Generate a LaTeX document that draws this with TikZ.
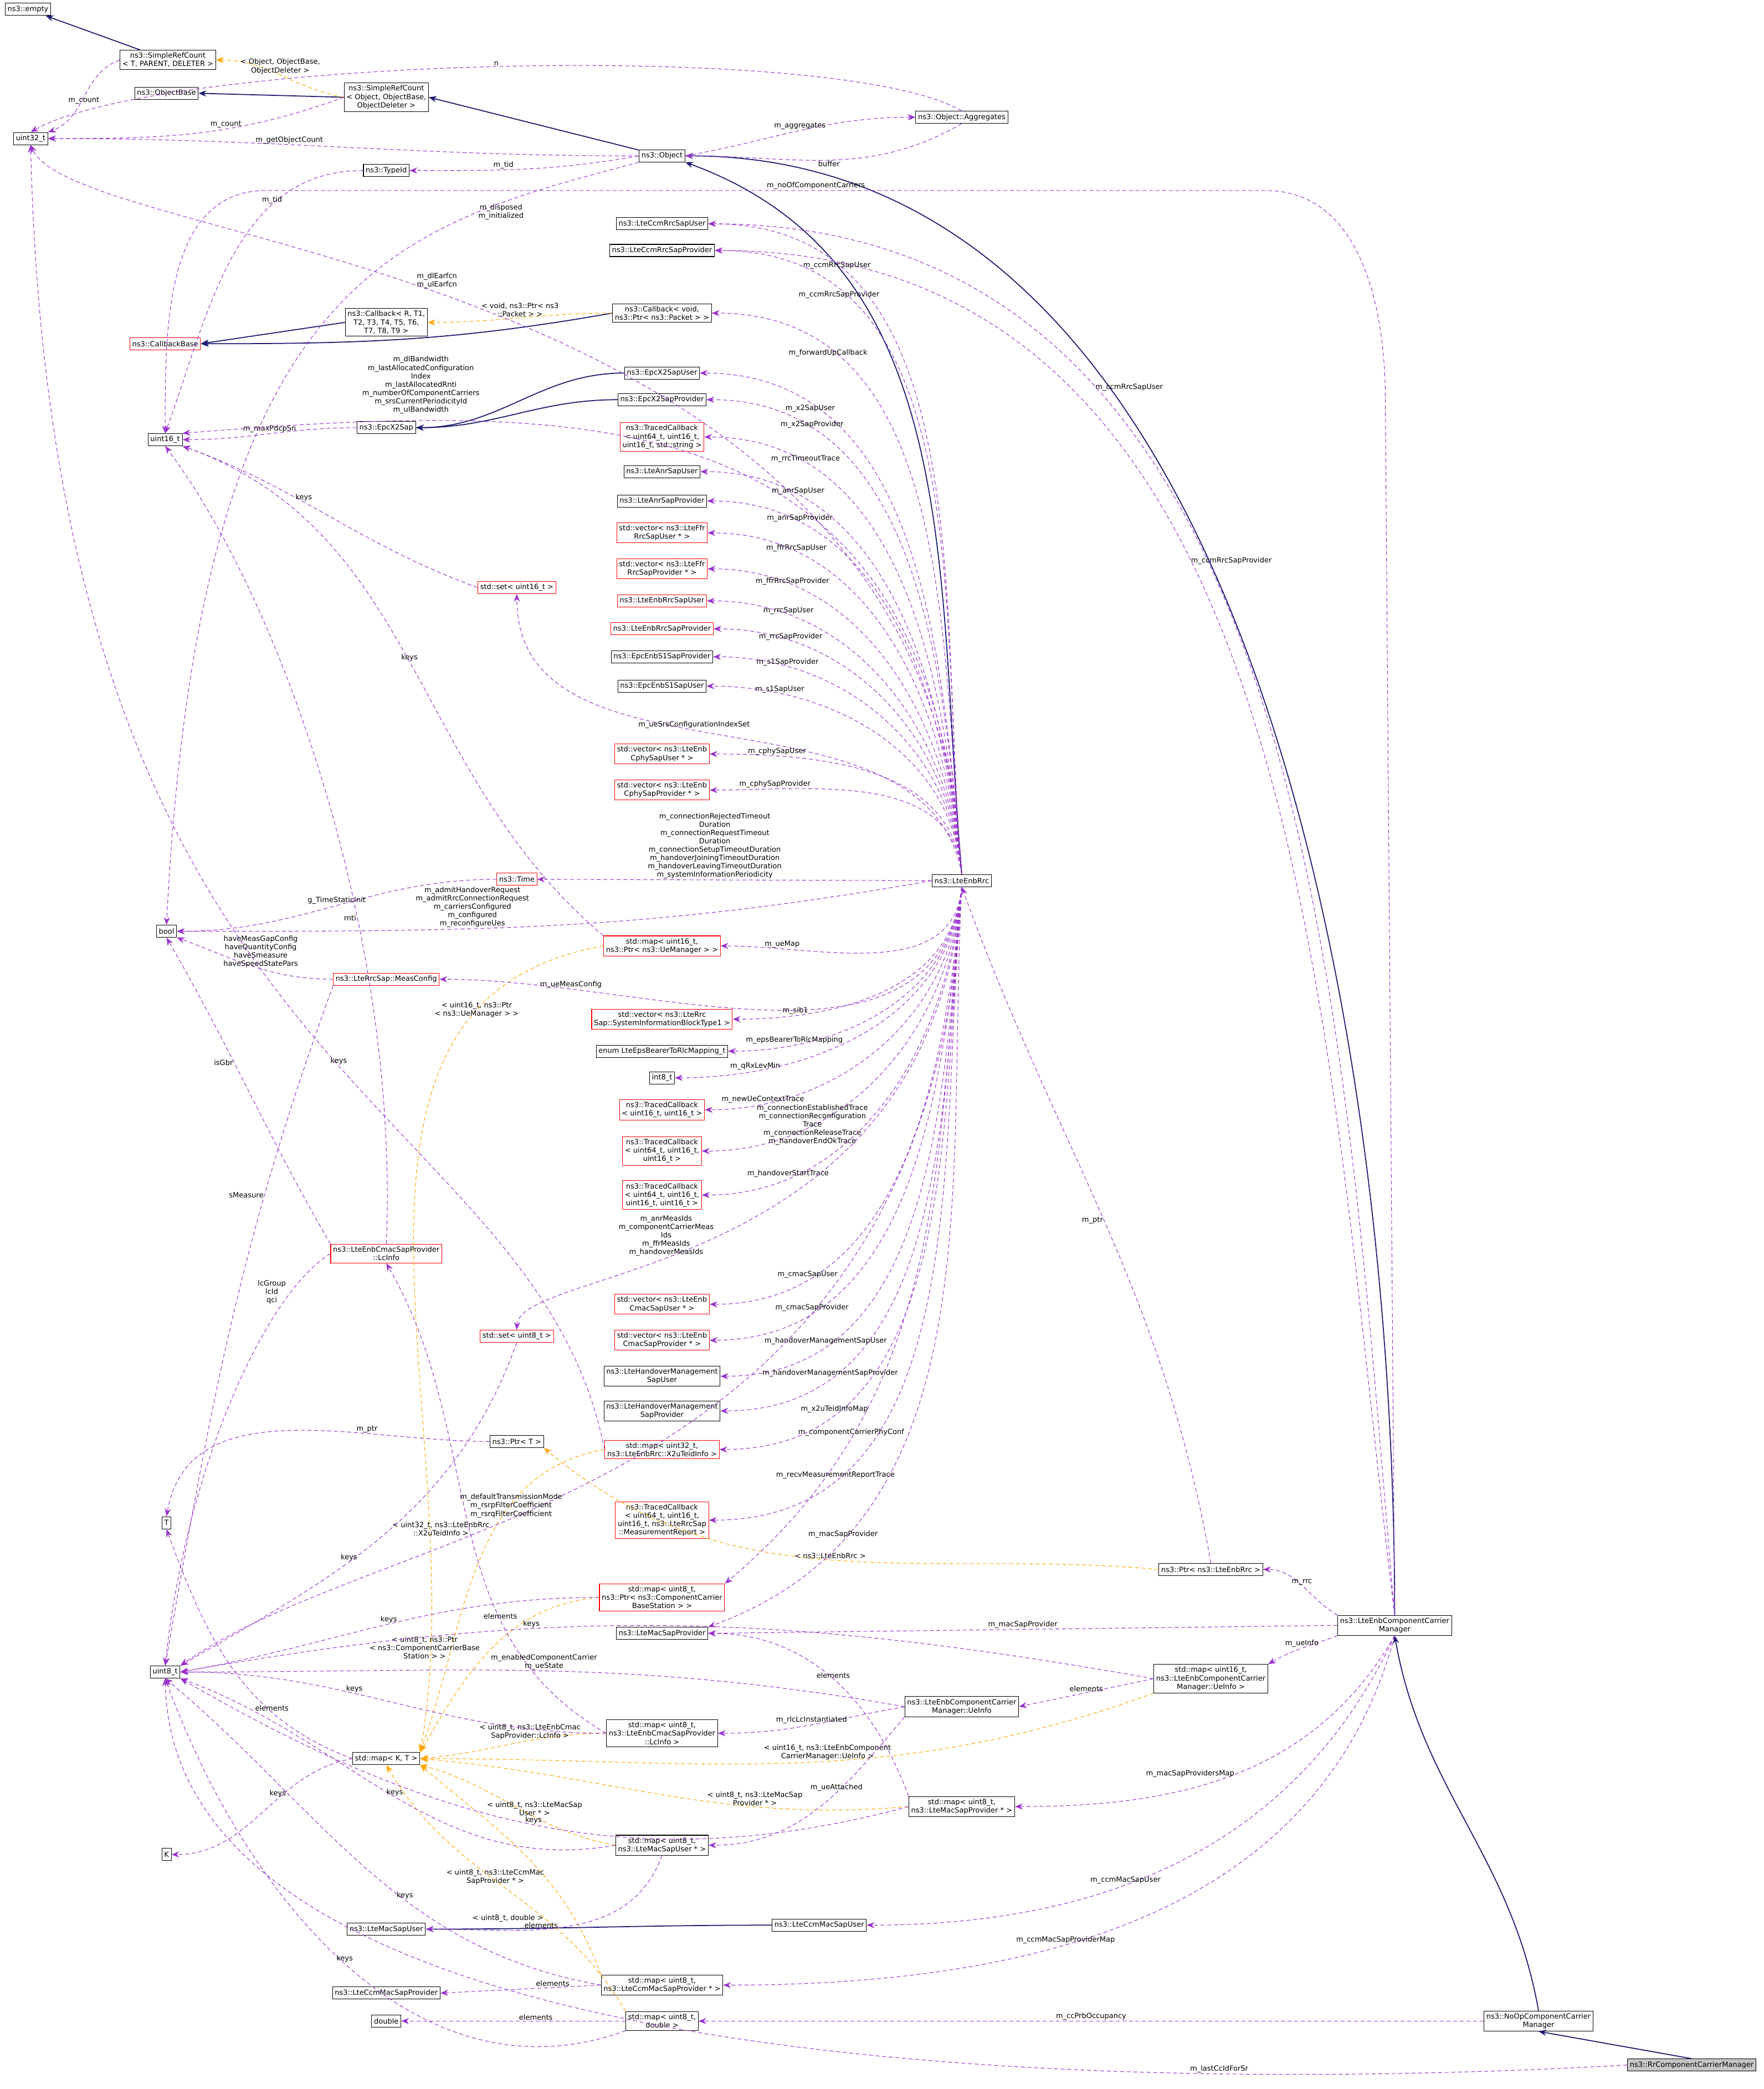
\documentclass[tikz,border=0pt]{standalone}
\usepackage{fontspec}
\setmainfont{DejaVu Sans}
\usetikzlibrary{arrows.meta,positioning}
\definecolor{navy}{HTML}{191970}
\definecolor{purp}{HTML}{9A32CD}
\definecolor{orng}{HTML}{FFA500}
\newcommand{\dxfont}{\fontsize{3.7}{4.3}\selectfont}
\tikzset{
 cls/.style={draw=black, fill=white, font=\dxfont, align=center, inner sep=1.2pt, minimum height=0.22cm, line width=0.3pt},
 cred/.style={cls, draw=red},
 cfoc/.style={cls, fill=gray!45},
 inh/.style={draw=navy, line width=0.5pt, -{Stealth[length=1.4mm,width=1.1mm]}},
 use/.style={draw=purp, line width=0.3pt, dash pattern=on 2pt off 1.4pt, -{Stealth[length=1.4mm,width=1.1mm]}},
 tpl/.style={draw=orng, line width=0.3pt, dash pattern=on 2pt off 1.4pt, -{Stealth[length=1.4mm,width=1.1mm]}},
 lbl/.style={font=\dxfont, align=center, text=black, inner sep=0.4pt},
}
\begin{document}
\begin{tikzpicture}[x=0.02404cm, y=-0.02404cm]
\useasboundingbox (0,0) rectangle (1324,1568);

% classes, left column
\node[cls] (empty) at (21,7) {ns3::empty};
\node[cls] (srcT) at (126,45) {ns3::SimpleRefCount\\< T, PARENT, DELETER >};
\node[cls] (objbase) at (125,70) {ns3::ObjectBase};
\node[cls] (u32) at (23,104) {uint32\_t};
\node[cred] (cbbase) at (124,258) {ns3::CallbackBase};
\node[cls] (u16) at (124,330) {uint16\_t};
\node[cls] (bool) at (125,699) {bool};
\node[cls] (T) at (125,1143) {T};
\node[cls] (u8) at (124,1255) {uint8\_t};
\node[cls] (K) at (125,1392) {K};

% second column
\node[cls] (srcobj) at (290,73) {ns3::SimpleRefCount\\< Object, ObjectBase,\\ObjectDeleter >};
\node[cls] (typeid) at (290,128) {ns3::TypeId};
\node[cls] (cbR) at (290,242) {ns3::Callback< R, T1,\\T2, T3, T4, T5, T6,\\T7, T8, T9 >};
\node[cls] (x2sap) at (290,321) {ns3::EpcX2Sap};
\node[cred] (time) at (388,660) {ns3::Time};
\node[cred] (set16) at (388,441) {std::set< uint16\_t >};
\node[cred] (meas) at (290,735) {ns3::LteRrcSap::MeasConfig};
\node[cred] (lcinfo) at (290,941) {ns3::LteEnbCmacSapProvider\\::LcInfo};
\node[cred] (set8) at (388,1003) {std::set< uint8\_t >};
\node[cls] (ptrT) at (388,1082) {ns3::Ptr< T >};
\node[cls] (mapKT) at (290,1320) {std::map< K, T >};
\node[cls] (macuser) at (290,1448) {ns3::LteMacSapUser};
\node[cls] (ccmmacprov) at (290,1496) {ns3::LteCcmMacSapProvider};
\node[cls] (double) at (290,1517) {double};

% third column
\node[cls] (object) at (497,117) {ns3::Object};
\node[cls] (ccmrrcuser) at (497,168) {ns3::LteCcmRrcSapUser};
\node[cls] (ccmrrcprov) at (497,188) {ns3::LteCcmRrcSapProvider};
\node[cls] (cbvoid) at (497,235) {ns3::Callback< void,\\ns3::Ptr< ns3::Packet > >};
\node[cls] (x2user) at (497,280) {ns3::EpcX2SapUser};
\node[cls] (x2prov) at (497,300) {ns3::EpcX2SapProvider};
\node[cred] (tc1) at (497,328) {ns3::TracedCallback\\< uint64\_t, uint16\_t,\\uint16\_t, std::string >};
\node[cls] (anruser) at (497,354) {ns3::LteAnrSapUser};
\node[cls] (anrprov) at (497,376) {ns3::LteAnrSapProvider};
\node[cred] (ffruser) at (497,400) {std::vector< ns3::LteFfr\\RrcSapUser * >};
\node[cred] (ffrprov) at (497,427) {std::vector< ns3::LteFfr\\RrcSapProvider * >};
\node[cred] (rrcuser) at (497,451) {ns3::LteEnbRrcSapUser};
\node[cred] (rrcprov) at (497,472) {ns3::LteEnbRrcSapProvider};
\node[cls] (s1prov) at (497,493) {ns3::EpcEnbS1SapProvider};
\node[cls] (s1user) at (497,515) {ns3::EpcEnbS1SapUser};
\node[cred] (cphyuser) at (497,566) {std::vector< ns3::LteEnb\\CphySapUser * >};
\node[cred] (cphyprov) at (497,593) {std::vector< ns3::LteEnb\\CphySapProvider * >};
\node[cred] (uemap) at (497,710) {std::map< uint16\_t,\\ns3::Ptr< ns3::UeManager > >};
\node[cred] (sib1) at (497,765) {std::vector< ns3::LteRrc\\Sap::SystemInformationBlockType1 >};
\node[cls] (enum) at (497,789) {enum LteEpsBearerToRlcMapping\_t};
\node[cls] (i8) at (497,809) {int8\_t};
\node[cred] (tc2) at (497,833) {ns3::TracedCallback\\< uint16\_t, uint16\_t >};
\node[cred] (tc3) at (497,864) {ns3::TracedCallback\\< uint64\_t, uint16\_t,\\uint16\_t >};
\node[cred] (tc4) at (497,897) {ns3::TracedCallback\\< uint64\_t, uint16\_t,\\uint16\_t, uint16\_t >};
\node[cred] (cmacuser) at (497,979) {std::vector< ns3::LteEnb\\CmacSapUser * >};
\node[cred] (cmacprov) at (497,1006) {std::vector< ns3::LteEnb\\CmacSapProvider * >};
\node[cls] (homuser) at (497,1033) {ns3::LteHandoverManagement\\SapUser};
\node[cls] (homprov) at (497,1059) {ns3::LteHandoverManagement\\SapProvider};
\node[cred] (x2umap) at (497,1088) {std::map< uint32\_t,\\ns3::LteEnbRrc::X2uTeidInfo >};
\node[cred] (tc5) at (497,1141) {ns3::TracedCallback\\< uint64\_t, uint16\_t,\\uint16\_t, ns3::LteRrcSap\\::MeasurementReport >};
\node[cred] (ccmap) at (497,1199) {std::map< uint8\_t,\\ns3::Ptr< ns3::ComponentCarrier\\BaseStation > >};
\node[cls] (macprov) at (497,1226) {ns3::LteMacSapProvider};
\node[cls] (lcmap) at (497,1301) {std::map< uint8\_t,\\ns3::LteEnbCmacSapProvider\\::LcInfo >};
\node[cls] (macusermap) at (497,1385) {std::map< uint8\_t,\\ns3::LteMacSapUser * >};
\node[cls] (ccmprovmap) at (497,1490) {std::map< uint8\_t,\\ns3::LteCcmMacSapProvider * >};
\node[cls] (dblmap) at (497,1517) {std::map< uint8\_t,\\double >};

% right part
\node[cls] (aggr) at (722,88) {ns3::Object::Aggregates};
\node[cls] (rrc) at (722,661) {ns3::LteEnbRrc};
\node[cls] (ueinfo) at (722,1281) {ns3::LteEnbComponentCarrier\\Manager::UeInfo};
\node[cls] (macprovmap) at (722,1356) {std::map< uint8\_t,\\ns3::LteMacSapProvider * >};
\node[cls] (ccmmacuser) at (615,1445) {ns3::LteCcmMacSapUser};
\node[cls] (ptrrrc) at (909,1178) {ns3::Ptr< ns3::LteEnbRrc >};
\node[cls] (ueinfomap) at (909,1260) {std::map< uint16\_t,\\ns3::LteEnbComponentCarrier\\Manager::UeInfo >};
\node[cls] (ccm) at (1047,1220) {ns3::LteEnbComponentCarrier\\Manager};
\node[cls] (noop) at (1155,1517) {ns3::NoOpComponentCarrier\\Manager};
\node[cfoc] (rr) at (1270,1550) {ns3::RrComponentCarrierManager};

% inheritance
\draw[inh] (srcT) -- (empty);
\draw[inh] (srcobj.west) -- (objbase.east);
\draw[inh] (object) -- (srcobj.east);
\draw[inh] (rrc.north) to[out=95,in=-20] (object.south east);
\draw[inh] (ccm.north) to[out=90,in=0,looseness=0.9] (object.east);
\draw[inh] (cbR.west) -- (cbbase.east);
\draw[inh] (cbvoid.west) to[out=190,in=0] (cbbase.east);
\draw[inh] (x2user.west) to[out=180,in=0] (x2sap.east);
\draw[inh] (x2prov.west) to[out=180,in=0] (x2sap.east);
\draw[inh] (ccmmacuser.west) to[out=180,in=0] (macuser.east);
\draw[inh] (noop.north) to[out=100,in=-80] (ccm.south);
\draw[inh] (rr.north) -- (noop.south);

% template instances
\draw[tpl] (srcobj.west) to[out=170,in=0] node[lbl,pos=0.5,above]{< Object, ObjectBase,\\ObjectDeleter >} (srcT.east);
\draw[tpl] (cbvoid.west) to[out=180,in=0] node[lbl,pos=0.5,above]{< void, ns3::Ptr< ns3\\::Packet > >} (cbR.east);
\draw[tpl] (uemap.west) to[out=190,in=80] node[lbl,pos=0.18]{< uint16\_t, ns3::Ptr\\< ns3::UeManager > >} (mapKT.north east);
\draw[tpl] (x2umap.west) to[out=190,in=70] node[lbl,pos=0.4,left=2pt]{< uint32\_t, ns3::LteEnbRrc\\::X2uTeidInfo >} (mapKT.north east);
\draw[tpl] (ptrrrc.west) to[out=175,in=-40] node[lbl,pos=0.5,above]{< ns3::LteEnbRrc >} (ptrT.south east);
\draw[tpl] (ccmap.west) to[out=185,in=60] node[lbl,pos=0.5,left=6pt]{< uint8\_t, ns3::Ptr\\< ns3::ComponentCarrierBase\\Station > >} (mapKT.north east);
\draw[tpl] (lcmap.west) to[out=180,in=5] node[lbl,pos=0.4,above]{< uint8\_t, ns3::LteEnbCmac\\SapProvider::LcInfo >} (mapKT.east);
\draw[tpl] (ueinfomap.south west) to[out=200,in=0] node[lbl,pos=0.45,above]{< uint16\_t, ns3::LteEnbComponent\\CarrierManager::UeInfo >} (mapKT.east);
\draw[tpl] (macprovmap.west) to[out=185,in=-5] node[lbl,pos=0.3,above]{< uint8\_t, ns3::LteMacSap\\Provider * >} (mapKT.east);
\draw[tpl] (macusermap.west) to[out=170,in=-15] node[lbl,pos=0.4,above]{< uint8\_t, ns3::LteMacSap\\User * >} (mapKT.south east);
\draw[tpl] (ccmprovmap.north west) to[out=110,in=-40] node[lbl,pos=0.4,left]{< uint8\_t, ns3::LteCcmMac\\SapProvider * >} (mapKT.south east);
\draw[tpl] (dblmap.north west) to[out=120,in=-60] node[lbl,pos=0.35,left]{< uint8\_t, double >} (mapKT.south);

% members, top
\draw[use] (srcT.west) to[out=200,in=20] node[lbl,pos=0.5,below]{m\_count} (u32.north east);
\draw[use] (srcobj.west) to[out=200,in=0] node[lbl,pos=0.4,above]{m\_count} (u32.east);
\draw[use] (aggr.north) to[out=150,in=30,looseness=0.4] node[lbl,pos=0.5,above]{n} (u32.north);
\draw[use] (object.west) to[out=180,in=0] node[lbl,pos=0.6,above]{m\_getObjectCount} (u32.east);
\draw[use] (object.east) to[out=10,in=180] node[lbl,pos=0.5,above]{m\_aggregates} (aggr.west);
\draw[use] (aggr.south) to[out=-150,in=0] node[lbl,pos=0.5,below]{buffer} (object.east);
\draw[use] (object.west) to[out=190,in=0] node[lbl,pos=0.6,above]{m\_tid} (typeid.east);
\draw[use] (typeid.west) to[out=180,in=70] node[lbl,pos=0.3,above]{m\_tid} (u16.north);
\draw[use] (object.south west) .. controls (300,170) and (150,200) .. node[lbl,pos=0.2,below]{m\_disposed\\m\_initialized} (bool.north);
\draw[use] (x2sap.west) to[out=180,in=0] node[lbl,pos=0.5,above]{m\_maxPdcpSn} (u16.east);

% members of the rrc, above it
\draw[use] (rrc.north) .. controls (700,190) and (60,190) .. node[lbl,pos=0.55,above=1pt]{m\_dlEarfcn\\m\_ulEarfcn} (u32.south);
\draw[use] (rrc.north) to[out=95,in=0] node[lbl,pos=0.8]{m\_ccmRrcSapUser} (ccmrrcuser.east);
\draw[use] (rrc.north) to[out=95,in=0] node[lbl,pos=0.8,below]{m\_ccmRrcSapProvider} (ccmrrcprov.east);
\draw[use] (rrc.north) to[out=95,in=0] node[lbl,pos=0.8,below]{m\_forwardUpCallback} (cbvoid.east);
\draw[use] (rrc.north) .. controls (700,300) and (450,300) .. node[lbl,pos=0.8,above=3pt]{m\_dlBandwidth\\m\_lastAllocatedConfiguration\\Index\\m\_lastAllocatedRnti\\m\_numberOfComponentCarriers\\m\_srsCurrentPeriodicityId\\m\_ulBandwidth} (u16.north east);
\draw[use] (rrc.north) to[out=95,in=0] node[lbl,pos=0.8,below]{m\_x2SapUser} (x2user.east);
\draw[use] (rrc.north) to[out=95,in=0] node[lbl,pos=0.8,above]{m\_x2SapProvider} (x2prov.east);
\draw[use] (rrc.north) to[out=95,in=0] node[lbl,pos=0.8,above]{m\_rrcTimeoutTrace} (tc1.east);
\draw[use] (rrc.north) to[out=95,in=0] node[lbl,pos=0.8,above]{m\_anrSapUser} (anruser.east);
\draw[use] (rrc.north) to[out=95,in=0] node[lbl,pos=0.8,above]{m\_anrSapProvider} (anrprov.east);
\draw[use] (rrc.north) to[out=95,in=0] node[lbl,pos=0.8,above]{m\_ffrRrcSapUser} (ffruser.east);
\draw[use] (rrc.north) to[out=95,in=0] node[lbl,pos=0.8,above]{m\_ffrRrcSapProvider} (ffrprov.east);
\draw[use] (rrc.north) to[out=95,in=0] node[lbl,pos=0.8,above]{m\_rrcSapUser} (rrcuser.east);
\draw[use] (rrc.north) to[out=95,in=0] node[lbl,pos=0.8,above]{m\_rrcSapProvider} (rrcprov.east);
\draw[use] (rrc.north) to[out=95,in=0] node[lbl,pos=0.8,above]{m\_s1SapProvider} (s1prov.east);
\draw[use] (rrc.north) to[out=95,in=0] node[lbl,pos=0.8,above]{m\_s1SapUser} (s1user.east);
\draw[use] (rrc.north) to[out=100,in=-90] node[lbl,pos=0.55,above]{m\_ueSrsConfigurationIndexSet} (set16.south);
\draw[use] (rrc.north) to[out=95,in=0] node[lbl,pos=0.8,above]{m\_cphySapUser} (cphyuser.east);
\draw[use] (rrc.north) to[out=95,in=0] node[lbl,pos=0.8,above]{m\_cphySapProvider} (cphyprov.east);

% members of the rrc, at and below it
\draw[use] (rrc.west) -- node[lbl,pos=0.55,above]{m\_connectionRejectedTimeout\\Duration\\m\_connectionRequestTimeout\\Duration\\m\_connectionSetupTimeoutDuration\\m\_handoverJoiningTimeoutDuration\\m\_handoverLeavingTimeoutDuration\\m\_systemInformationPeriodicity} (time.east);
\draw[use] (rrc.west) to[out=190,in=0] node[lbl,pos=0.62,above]{m\_admitHandoverRequest\\m\_admitRrcConnectionRequest\\m\_carriersConfigured\\m\_configured\\m\_reconfigureUes} (bool.east);
\draw[use] (rrc.south) to[out=-95,in=0] node[lbl,pos=0.8,above]{m\_ueMap} (uemap.east);
\draw[use] (rrc.south) to[out=-97,in=0] node[lbl,pos=0.8,above]{m\_ueMeasConfig} (meas.east);
\draw[use] (rrc.south) to[out=-95,in=0] node[lbl,pos=0.8,above]{m\_sib1} (sib1.east);
\draw[use] (rrc.south) to[out=-95,in=0] node[lbl,pos=0.8,above]{m\_epsBearerToRlcMapping} (enum.east);
\draw[use] (rrc.south) to[out=-95,in=0] node[lbl,pos=0.8,above]{m\_qRxLevMin} (i8.east);
\draw[use] (rrc.south) to[out=-95,in=0] node[lbl,pos=0.85,above]{m\_newUeContextTrace} (tc2.east);
\draw[use] (rrc.south) to[out=-95,in=0] node[lbl,pos=0.72]{m\_connectionEstablishedTrace\\m\_connectionReconfiguration\\Trace\\m\_connectionReleaseTrace\\m\_handoverEndOkTrace} (tc3.east);
\draw[use] (rrc.south) to[out=-95,in=0] node[lbl,pos=0.8,above]{m\_handoverStartTrace} (tc4.east);
\draw[use] (rrc.south) .. controls (700,960) and (390,950) .. node[lbl,pos=0.6,above=1pt]{m\_anrMeasIds\\m\_componentCarrierMeas\\Ids\\m\_ffrMeasIds\\m\_handoverMeasIds} (set8.north);
\draw[use] (rrc.south) to[out=-95,in=0] node[lbl,pos=0.8,above]{m\_cmacSapUser} (cmacuser.east);
\draw[use] (rrc.south) to[out=-95,in=0] node[lbl,pos=0.8,above]{m\_cmacSapProvider} (cmacprov.east);
\draw[use] (rrc.south) to[out=-95,in=0] node[lbl,pos=0.8,above]{m\_handoverManagementSapUser} (homuser.east);
\draw[use] (rrc.south) to[out=-95,in=0] node[lbl,pos=0.8,above]{m\_handoverManagementSapProvider} (homprov.east);
\draw[use] (rrc.south) to[out=-95,in=0] node[lbl,pos=0.8,above]{m\_x2uTeidInfoMap} (x2umap.east);
\draw[use] (rrc.south) to[out=-95,in=0] node[lbl,pos=0.8,above]{m\_recvMeasurementReportTrace} (tc5.east);
\draw[use] (rrc.south) to[out=-95,in=40] node[lbl,pos=0.75,above]{m\_componentCarrierPhyConf} (ccmap.north east);
\draw[use] (rrc.south) to[out=-93,in=20] node[lbl,pos=0.8,above]{m\_macSapProvider} (macprov.north east);
\draw[use] (rrc.south) .. controls (700,1135) and (300,1135) .. node[lbl,pos=0.63,above]{m\_defaultTransmissionMode\\m\_rsrpFilterCoefficient\\m\_rsrqFilterCoefficient} (u8.north east);

% members of the other classes
\draw[use] (time.west) to[out=180,in=0] node[lbl,pos=0.5,above]{g\_TimeStaticInit} (bool.east);
\draw[use] (set16.west) to[out=160,in=-20] node[lbl,pos=0.6,above]{keys} (u16.south east);
\draw[use] (uemap.north west) to[out=140,in=-20] node[lbl,pos=0.5,above]{keys} (u16.south east);
\draw[use] (meas.west) to[out=180,in=-20] node[lbl,pos=0.45,above]{haveMeasGapConfig\\haveQuantityConfig\\haveSmeasure\\haveSpeedStatePars} (bool.south east);
\draw[use] (meas.south west) to[out=-110,in=80] node[lbl,pos=0.3,left]{sMeasure} (u8.north);
\draw[use] (lcinfo.north) .. controls (300,700) and (210,450) .. node[lbl,pos=0.35,left]{rnti} (u16.south);
\draw[use] (lcinfo.north west) to[out=120,in=-60] node[lbl,pos=0.6,left]{isGbr} (bool.south);
\draw[use] (lcinfo.west) .. controls (200,970) and (140,1100) .. node[lbl,pos=0.2,left=2pt]{lcGroup\\lcId\\qci} (u8.north);
\draw[use] (set8.south) to[out=-110,in=30] node[lbl,pos=0.6,above]{keys} (u8.north east);
\draw[use] (ptrT.west) to[out=180,in=80] node[lbl,pos=0.3,above]{m\_ptr} (T.north);
\draw[use] (x2umap.west) .. controls (400,820) and (40,820) .. node[lbl,pos=0.45,above]{keys} (u32.south);
\draw[use] (ptrrrc.north) to[out=100,in=-70] node[lbl,pos=0.5,left]{m\_ptr} (rrc.south);
\draw[use] (ccmap.west) to[out=180,in=10] node[lbl,pos=0.5,above]{keys} (u8.east);
\draw[use] (lcmap.west) to[out=150,in=-60] node[lbl,pos=0.3,above]{elements} (lcinfo.south);
\draw[use] (lcmap.west) to[out=180,in=0] node[lbl,pos=0.6,above]{keys} (u8.east);
\draw[use] (mapKT.west) to[out=190,in=0] node[lbl,pos=0.4,above]{keys} (K.east);
\draw[use] (mapKT.west) to[out=160,in=-70] node[lbl,pos=0.3,above]{elements} (T.south);
\draw[use] (macusermap.south) to[out=-110,in=0] node[lbl,pos=0.6,above]{elements} (macuser.east);
\draw[use] (macusermap.west) to[out=190,in=-20] node[lbl,pos=0.5,above]{keys} (u8.south east);
\draw[use] (macprovmap.north west) to[out=110,in=0] node[lbl,pos=0.5,above]{elements} (macprov.east);
\draw[use] (macprovmap.west) to[out=195,in=-30] node[lbl,pos=0.5,above]{keys} (u8.south east);
\draw[use] (ccmprovmap.west) -- node[lbl,pos=0.3,above]{elements} (ccmmacprov.east);
\draw[use] (ccmprovmap.west) to[out=170,in=-40] node[lbl,pos=0.4,above]{keys} (u8.south);
\draw[use] (dblmap.west) -- node[lbl,pos=0.4,above]{elements} (double.east);
\draw[use] (dblmap.south west) to[out=-160,in=-70] node[lbl,pos=0.5,above]{keys} (u8.south);
\draw[use] (ueinfo.west) to[out=170,in=0] node[lbl,pos=0.5,above]{m\_enabledComponentCarrier\\m\_ueState} (u8.east);
\draw[use] (ueinfo.west) to[out=190,in=0] node[lbl,pos=0.5,above]{m\_rlcLcInstantiated} (lcmap.east);
\draw[use] (ueinfo.south west) to[out=-130,in=0] node[lbl,pos=0.4,above]{m\_ueAttached} (macusermap.east);
\draw[use] (ueinfomap.west) -- node[lbl,pos=0.5,above]{elements} (ueinfo.east);
\draw[use] (ueinfomap.west) to[out=170,in=10] node[lbl,pos=0.65,above]{keys} (u8.east);

% members of the carrier managers
\draw[use] (ccm.north) -- (1040,300) to[out=90,in=0] (950,143) -- node[lbl,pos=0.45,above]{m\_noOfComponentCarriers} (200,143) to[out=180,in=90] (u16.north);
\draw[use] (ccm.north) to[out=95,in=0] node[lbl,pos=0.72,right]{m\_ccmRrcSapUser} (ccmrrcuser.east);
\draw[use] (ccm.north) to[out=97,in=0] node[lbl,pos=0.6,right]{m\_ccmRrcSapProvider} (ccmrrcprov.east);
\draw[use] (ccm.north west) to[out=150,in=0] node[lbl,pos=0.5,above]{m\_rrc} (ptrrrc.east);
\draw[use] (ccm.west) -- node[lbl,pos=0.5,above]{m\_macSapProvider} (macprov.east);
\draw[use] (ccm.south west) to[out=200,in=30] node[lbl,pos=0.5,above]{m\_ueInfo} (ueinfomap.north east);
\draw[use] (ccm.south) to[out=-120,in=0] node[lbl,pos=0.5,left]{m\_macSapProvidersMap} (macprovmap.east);
\draw[use] (ccm.south) to[out=-115,in=0] node[lbl,pos=0.6,above]{m\_ccmMacSapUser} (ccmmacuser.east);
\draw[use] (ccm.south) to[out=-105,in=0] node[lbl,pos=0.6,above]{m\_ccmMacSapProviderMap} (ccmprovmap.east);
\draw[use] (noop.west) -- node[lbl,pos=0.5,above]{m\_ccPrbOccupancy} (dblmap.east);
\draw[use] (rr.west) .. controls (900,1568) and (130,1575) .. node[lbl,pos=0.25,above]{m\_lastCcIdForSr} (u8.south);
\end{tikzpicture}
\end{document}
